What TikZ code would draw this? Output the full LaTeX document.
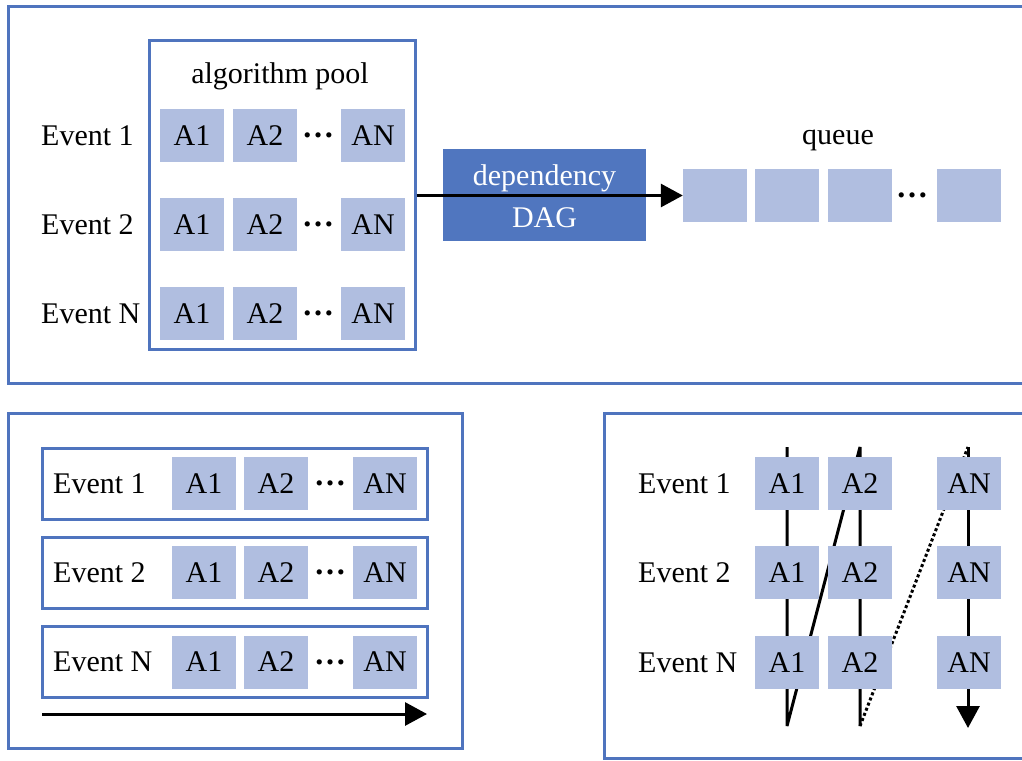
\documentclass[tikz,border=0pt]{standalone}
\usepackage{fontspec}
\setmainfont{Liberation Serif}
\usetikzlibrary{arrows.meta}
\definecolor{panelblue}{RGB}{79,116,190}
\definecolor{boxfill}{RGB}{176,190,224}
\definecolor{dagfill}{RGB}{80,118,191}
\tikzset{
  panel/.style={draw=panelblue, line width=3pt},
  abox/.style={fill=boxfill, minimum width=64pt, minimum height=53pt, inner sep=0pt,
    font=\fontsize{30}{36}\selectfont},
  evlabel/.style={anchor=west, inner sep=0pt, font=\fontsize{30}{36}\selectfont},
  plain/.style={inner sep=0pt, font=\fontsize{30}{36}\selectfont},
  dots/.style={inner sep=0pt, font=\fontsize{32}{36}\selectfont\bfseries},
  rowbox/.style={draw=panelblue, line width=3pt, minimum width=385pt, minimum height=71pt, inner sep=0pt},
  conn/.style={line width=3pt, black, line join=bevel},
  bigtip/.style={-{Triangle[length=22pt,width=23pt]}},
}
\begin{document}
\begin{tikzpicture}[x=1pt,y=-1pt]
\useasboundingbox (0,0) rectangle (1022,760);
\clip (0,0) rectangle (1022,760);
\fill[white] (0,0) rectangle (1022,760);

% ---------- top panel ----------
\draw[panel] (8,7) rectangle (1045,383);
\node[draw=panelblue, line width=3pt, minimum width=266pt, minimum height=308pt, inner sep=0pt] (pool) at (282,195) {};
\node[plain, anchor=base] (pooltitle) at (280,83) {algorithm pool};

\node[evlabel] (te1) at (41,135.5) {Event 1};
\node[evlabel] (te2) at (41,224.5) {Event 2};
\node[evlabel] (te3) at (41,313.5) {Event N};

\foreach \r/\y in {1/135.5,2/224.5,3/313.5}{
  \node[abox] (t\r a) at (192,\y) {A1};
  \node[abox] (t\r b) at (265,\y) {A2};
  \node[dots] (t\r d) at (318,\y) {…};
  \node[abox] (t\r n) at (373,\y) {AN};
}

\node[fill=dagfill, minimum width=203pt, minimum height=92pt, inner sep=0pt] (dag) at (544.5,195) {};
\node[plain, text=white, anchor=base] (dagt1) at (544.5,185) {dependency};
\node[plain, text=white, anchor=base] (dagt2) at (544.5,227) {DAG};

\node[plain, anchor=base] (qtitle) at (838,144) {queue};
\node[abox] (q1) at (715,195.5) {};
\node[abox] (q2) at (787,195.5) {};
\node[abox] (q3) at (860,195.5) {};
\node[dots] (qd) at (912,195.5) {…};
\node[abox] (q4) at (969,195.5) {};

\draw[conn, bigtip] (pool.east |- q1.west) -- (q1.west);

% ---------- bottom-left panel ----------
\draw[panel] (8,413) rectangle (462,748);
\foreach \r/\y/\lab in {1/483.5/Event 1,2/572.5/Event 2,3/662/Event N}{
  \node[rowbox] (br\r) at (234.5,\y) {};
  \node[evlabel] (ble\r) at (53,\y) {\lab};
  \node[abox] (bl\r a) at (204,\y) {A1};
  \node[abox] (bl\r b) at (276,\y) {A2};
  \node[dots] (bl\r d) at (330,\y) {…};
  \node[abox] (bl\r n) at (385,\y) {AN};
}
\coordinate (blarrs) at (42,714);
\coordinate (blarre) at (427,714);
\draw[conn, bigtip] (blarrs) -- (blarre);

% ---------- bottom-right panel ----------
\draw[panel] (604,413) rectangle (1045,758);
\coordinate (c1t) at (787,447);
\coordinate (c1b) at (787,726);
\coordinate (c2t) at (860,447);
\coordinate (c2b) at (860,726);
\coordinate (c3t) at (968,447);
\coordinate (c3b) at (968,728);
\draw[conn] (c1t) -- (c1b) -- (c2t) -- (c2b);
\draw[conn, dash pattern=on 3pt off 2.5pt] (c2b) -- (c3t);
\draw[conn, bigtip] (c3t) -- (c3b);

\foreach \r/\y/\lab in {1/483.5/Event 1,2/572.5/Event 2,3/662.5/Event N}{
  \node[evlabel] (bre\r) at (638,\y) {\lab};
  \node[abox] (rr\r a) at (787,\y) {A1};
  \node[abox] (rr\r b) at (860,\y) {A2};
  \node[abox] (rr\r n) at (969,\y) {AN};
}
\end{tikzpicture}
\end{document}
